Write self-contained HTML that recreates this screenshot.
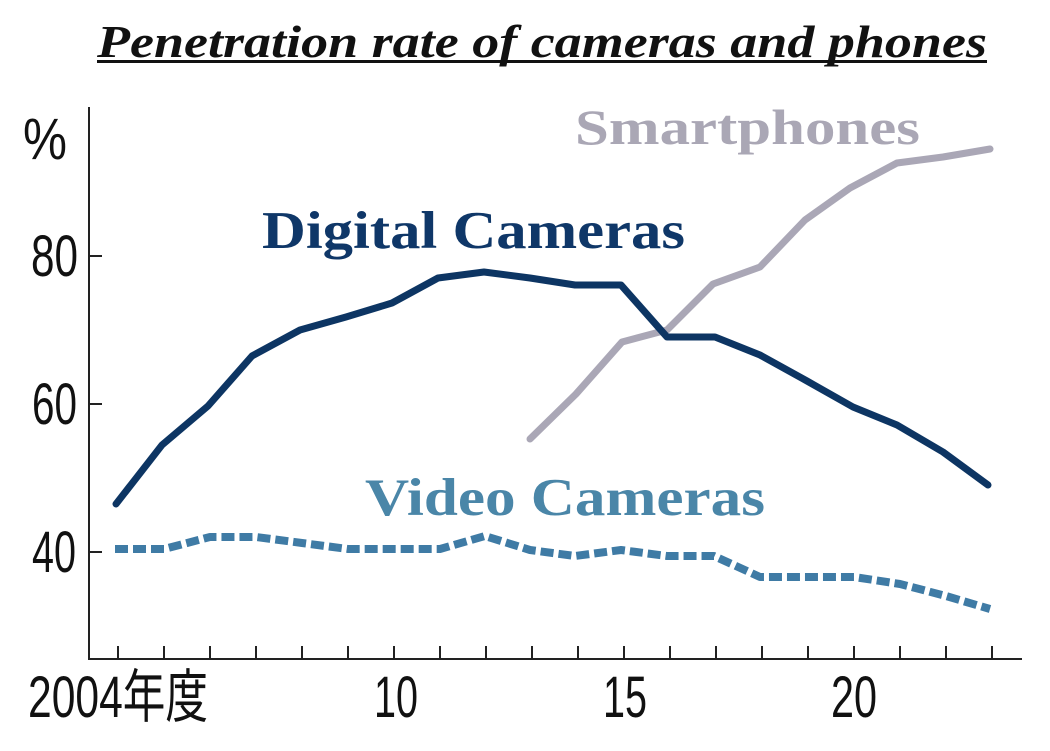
<!DOCTYPE html>
<html>
<head>
<meta charset="utf-8">
<style>
  html, body { margin: 0; padding: 0; background: #ffffff; }
  body { width: 1050px; height: 751px; overflow: hidden; }
  svg { display: block; }
</style>
</head>
<body>
<svg width="1050" height="751" viewBox="0 0 1050 751" xmlns="http://www.w3.org/2000/svg">
  <rect x="0" y="0" width="1050" height="751" fill="#ffffff"/>

  <!-- Title -->
  <text x="97" y="57" font-family="Liberation Serif, serif" font-weight="bold" font-style="italic" font-size="46" fill="#111" textLength="890" lengthAdjust="spacingAndGlyphs">Penetration rate of cameras and phones</text>
  <rect x="97" y="60" width="890" height="3" fill="#111"/>

  <!-- Axes -->
  <line x1="89" y1="107" x2="89" y2="660" stroke="#222" stroke-width="2"/>
  <line x1="88" y1="659" x2="1022" y2="659" stroke="#222" stroke-width="2"/>

  <!-- Y ticks -->
  <g stroke="#222" stroke-width="2">
    <line x1="89" y1="256" x2="102" y2="256"/>
    <line x1="89" y1="404" x2="102" y2="404"/>
    <line x1="89" y1="552" x2="102" y2="552"/>
  </g>

  <!-- X ticks -->
  <g stroke="#222" stroke-width="2">
    <line x1="118" y1="646" x2="118" y2="659"/>
    <line x1="164" y1="646" x2="164" y2="659"/>
    <line x1="210" y1="646" x2="210" y2="659"/>
    <line x1="256" y1="646" x2="256" y2="659"/>
    <line x1="302" y1="646" x2="302" y2="659"/>
    <line x1="348" y1="646" x2="348" y2="659"/>
    <line x1="394" y1="646" x2="394" y2="659"/>
    <line x1="440" y1="646" x2="440" y2="659"/>
    <line x1="486" y1="646" x2="486" y2="659"/>
    <line x1="532" y1="646" x2="532" y2="659"/>
    <line x1="578" y1="646" x2="578" y2="659"/>
    <line x1="624" y1="646" x2="624" y2="659"/>
    <line x1="670" y1="646" x2="670" y2="659"/>
    <line x1="716" y1="646" x2="716" y2="659"/>
    <line x1="762" y1="646" x2="762" y2="659"/>
    <line x1="808" y1="646" x2="808" y2="659"/>
    <line x1="854" y1="646" x2="854" y2="659"/>
    <line x1="900" y1="646" x2="900" y2="659"/>
    <line x1="946" y1="646" x2="946" y2="659"/>
    <line x1="992" y1="646" x2="992" y2="659"/>
  </g>

  <!-- Y labels -->
  <g font-family="Liberation Sans, sans-serif" font-size="58" fill="#111">
    <text x="23" y="159" textLength="44" lengthAdjust="spacingAndGlyphs">%</text>
    <text x="31" y="276" textLength="47" lengthAdjust="spacingAndGlyphs">80</text>
    <text x="32" y="424" textLength="45" lengthAdjust="spacingAndGlyphs">60</text>
    <text x="32" y="572" textLength="44" lengthAdjust="spacingAndGlyphs">40</text>
  </g>

  <!-- X labels -->
  <g font-family="Liberation Sans, 'Noto Sans CJK JP', sans-serif" font-size="58" fill="#111">
    <text x="28" y="717" textLength="180" lengthAdjust="spacingAndGlyphs">2004年度</text>
    <text x="374" y="717" textLength="44" lengthAdjust="spacingAndGlyphs">10</text>
    <text x="603" y="717" textLength="44" lengthAdjust="spacingAndGlyphs">15</text>
    <text x="831" y="717" textLength="46" lengthAdjust="spacingAndGlyphs">20</text>
  </g>

  <!-- Video cameras (dashed) -->
  <polyline fill="none" stroke="#3f7ba5" stroke-width="8" stroke-dasharray="13 5" stroke-linejoin="round"
    points="115,549 164,549 210,537 256,537 302,543 348,549 394,549 440,549 485,536 530,550 575,556 621,550 667,556 714,556 760,577 807,577 854,577 900,584 946,596 990,609"/>

  <!-- Smartphones -->
  <polyline fill="none" stroke="#aaa7b6" stroke-width="7" stroke-linejoin="round" stroke-linecap="round"
    points="530,439 576,394 622,342 667,330 713,284 760,267 805,220 850,188 897,163 943,157 990,149"/>

  <!-- Digital cameras -->
  <polyline fill="none" stroke="#0d3563" stroke-width="7" stroke-linejoin="round" stroke-linecap="round"
    points="116,504 162,445 208,406 252,356 300,330 346,317 392,303 438,278 484,272 530,278 575,285 621,285 667,337 715,337 760,355 807,381 853,407 897,425 943,452 988,485"/>

  <!-- Series labels -->
  <text x="575" y="144" font-family="Liberation Serif, serif" font-weight="bold" font-size="50" fill="#aaa7b5" textLength="345" lengthAdjust="spacingAndGlyphs">Smartphones</text>
  <text x="262" y="248" font-family="Liberation Serif, serif" font-weight="bold" font-size="53" fill="#0f3768" textLength="423" lengthAdjust="spacingAndGlyphs">Digital Cameras</text>
  <text x="365" y="515" font-family="Liberation Serif, serif" font-weight="bold" font-size="53" fill="#4a86a8" textLength="400" lengthAdjust="spacingAndGlyphs">Video Cameras</text>
</svg>
</body>
</html>
